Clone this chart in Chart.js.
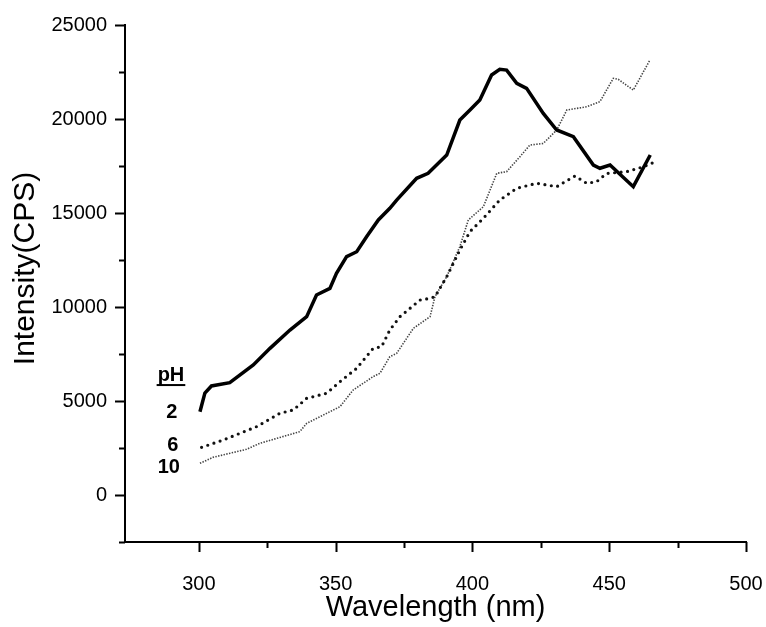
<!DOCTYPE html>
<html>
<head>
<meta charset="utf-8">
<script src="https://cdn.jsdelivr.net/npm/chart.js@4.4.0/dist/chart.umd.min.js"></script>
<style>
  html, body { margin: 0; background: #fff; }
</style>
</head>
<body>
<canvas id="chart" width="766" height="627"></canvas>
<script>
// pH 2 (solid)
const ph2Nm = [300.4, 302.2, 304.6, 311.3, 319.9, 326, 333.3, 339.4, 343, 347.9, 350.3, 354, 357.7, 361.3, 365.6, 369.8, 372.3, 379.6, 383.8, 390.6, 395.4, 399.1, 402.7, 407, 410, 412.5, 416.2, 419.8, 425.9, 430.8, 436.9, 444.2, 446.6, 450.3, 458.8, 465];
const ph2Cps = [4430, 5425, 5800, 5975, 6915, 7800, 8775, 9485, 10640, 10990, 11790, 12680, 12940, 13740, 14630, 15250, 15690, 16845, 17110, 18085, 19945, 20480, 21010, 22340, 22640, 22600, 21900, 21630, 20300, 19415, 19060, 17550, 17380, 17550, 16400, 18085];

// pH 6 (bold dots)
const ph6Nm = [301, 308.9, 321.1, 329.6, 334.5, 339.4, 346.7, 351.6, 357.7, 363.7, 366.8, 369.8, 373.5, 380.8, 384.5, 386.3, 390.6, 395.4, 399.1, 404, 410, 416.2, 423.5, 430.8, 437.5, 441.8, 445.4, 449, 456.4, 462.5, 466.1];
const ph6Cps = [2535, 2925, 3635, 4345, 4520, 5140, 5410, 6030, 6740, 7800, 7890, 8775, 9485, 10370, 10460, 10550, 11610, 13030, 14010, 14720, 15690, 16315, 16580, 16400, 16970, 16580, 16665, 17100, 17200, 17460, 17680];

// pH 10 (fine dots)
const ph10Nm = [300.4, 305.2, 317.4, 322.3, 336.9, 339.4, 351.6, 356.4, 363.7, 366.2, 369.8, 372.3, 378.4, 384.5, 386.3, 390.6, 395.4, 398.5, 404, 408.9, 412.5, 417.4, 421, 425.9, 430.8, 434.5, 441.8, 446.6, 451.5, 453.3, 458.8, 464.9];
const ph10Cps = [1685, 2005, 2430, 2750, 3370, 3810, 4700, 5585, 6295, 6475, 7355, 7535, 8865, 9485, 10550, 11610, 13210, 14630, 15335, 17110, 17200, 18000, 18615, 18700, 19415, 20480, 20650, 20920, 22165, 22110, 21540, 23140];

// legend labels, placed in data units
const legendText = ["pH", "2", "6", "10"];
const legendNm = [289.8, 290.1, 290.5, 289];
const legendCps = [6380, 4415, 2660, 1490];

const yTitle = "Intensity(CPS)";

const toPoints = (xs, ys) => xs.map((x, i) => ({ x: x, y: ys[i] }));

const FONT = "'Liberation Sans', Arial, sans-serif";

// outward major/minor tick marks
const tickMarks = {
  id: "tickMarks",
  afterDraw(chart) {
    const ctx = chart.ctx;
    const xs = chart.scales.x;
    const ys = chart.scales.y;
    ctx.save();
    ctx.strokeStyle = "#000";
    ctx.lineWidth = 2;
    ctx.beginPath();
    xs.ticks.forEach((t) => {
      if (t.value % 25 !== 0) return;
      const px = Math.round(xs.getPixelForValue(t.value)) + 0.5;
      const len = t.value % 50 === 0 ? 10 : 6;
      ctx.moveTo(px, xs.top);
      ctx.lineTo(px, xs.top + len);
    });
    ys.ticks.forEach((t) => {
      if (t.value % 2500 !== 0) return;
      const py = Math.round(ys.getPixelForValue(t.value)) + 0.5;
      const len = t.value % 5000 === 0 ? 10 : 6;
      ctx.moveTo(ys.right, py);
      ctx.lineTo(ys.right - len, py);
    });
    ctx.stroke();
    ctx.restore();
  },
};

// "pH / 2 / 6 / 10" labels and the rotated y title
const textLabels = {
  id: "textLabels",
  afterDraw(chart) {
    const ctx = chart.ctx;
    const xs = chart.scales.x;
    const ys = chart.scales.y;
    ctx.save();
    ctx.fillStyle = "#000";
    ctx.font = "bold 20px " + FONT;
    ctx.textAlign = "center";
    ctx.textBaseline = "middle";
    legendText.forEach((txt, i) => {
      const px = xs.getPixelForValue(legendNm[i]);
      const py = ys.getPixelForValue(legendCps[i]);
      ctx.fillText(txt, px, py);
      if (i === 0) {
        const w = ctx.measureText(txt).width;
        ctx.fillRect(px - w / 2 - 1, py + 9, w + 2, 2);
      }
    });

    const area = chart.chartArea;
    ctx.translate(34, (area.top + area.bottom) / 2 - 15);
    ctx.rotate(-Math.PI / 2);
    ctx.font = "30px " + FONT;
    ctx.textBaseline = "alphabetic";
    ctx.fillText(yTitle, 0, 0);
    ctx.restore();
  },
};

new Chart(document.getElementById("chart"), {
  type: "line",
  data: {
    datasets: [
      {
        label: "pH 2",
        data: toPoints(ph2Nm, ph2Cps),
        borderColor: "#000",
        borderWidth: 3.5,
        pointRadius: 0,
        tension: 0,
      },
      {
        label: "pH 6",
        data: toPoints(ph6Nm, ph6Cps),
        borderColor: "#111",
        borderWidth: 3.2,
        borderDash: [0, 6.5],
        borderCapStyle: "round",
        pointRadius: 0,
        tension: 0,
      },
      {
        label: "pH 10",
        data: toPoints(ph10Nm, ph10Cps),
        borderColor: "#444",
        borderWidth: 1.6,
        borderDash: [1.4, 1.4],
        pointRadius: 0,
        tension: 0,
      },
    ],
  },
  options: {
    responsive: false,
    animation: false,
    layout: { padding: { top: 25, right: 20, left: 0, bottom: 0 } },
    plugins: {
      legend: { display: false },
      tooltip: { enabled: false },
    },
    scales: {
      x: {
        type: "linear",
        min: 273,
        max: 500,
        grid: { display: false },
        border: { display: true, color: "#000", width: 2 },
        ticks: {
          stepSize: 25,
          autoSkip: false,
          maxRotation: 0,
          padding: 22,
          color: "#000",
          font: { family: FONT, size: 20 },
          callback: (v) => (v % 50 === 0 ? String(v) : ""),
        },
        title: {
          display: true,
          text: "Wavelength (nm)",
          color: "#000",
          font: { family: FONT, size: 29 },
          padding: { top: 0, bottom: 2 },
        },
        afterFit: (scale) => {
          scale.height = 85;
          scale.paddingLeft = 0;
          scale.paddingRight = 0;
        },
      },
      y: {
        min: -2500,
        max: 25000,
        grid: { display: false },
        border: { display: true, color: "#000", width: 2 },
        ticks: {
          stepSize: 2500,
          autoSkip: false,
          padding: 10,
          color: "#000",
          font: { family: FONT, size: 20 },
          callback: (v) => (v % 5000 === 0 ? String(v) : ""),
        },
        afterFit: (scale) => {
          scale.width = 125;
          scale.paddingTop = 0;
          scale.paddingBottom = 0;
        },
      },
    },
  },
  plugins: [tickMarks, textLabels],
});
</script>
</body>
</html>
